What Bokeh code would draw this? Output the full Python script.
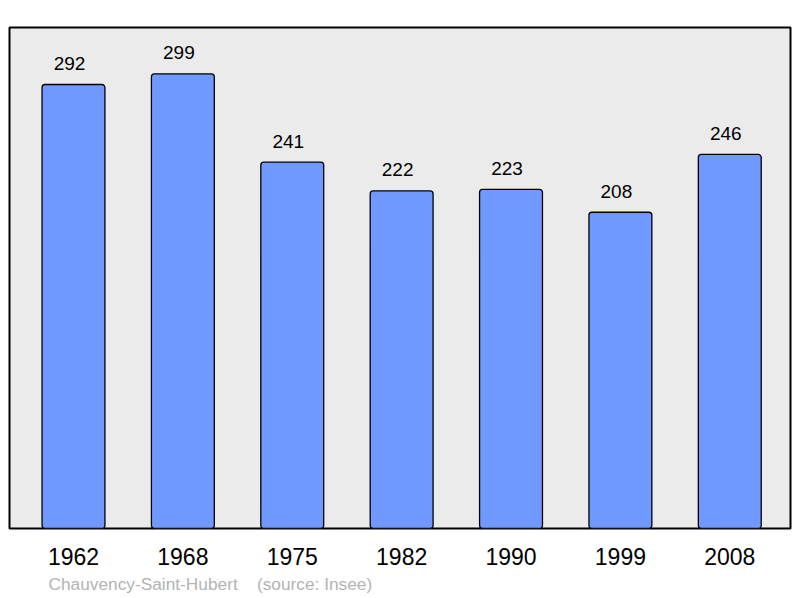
from bokeh.plotting import figure
from bokeh.models import FixedTicker, ColumnDataSource, Title, Range1d
from bokeh.core.properties import value
from bokeh.embed import file_html
from bokeh.resources import INLINE

years = ["1962", "1968", "1975", "1982", "1990", "1999", "2008"]
population = [292, 299, 241, 222, 223, 208, 246]
footer = "Chauvency-Saint-Hubert\u00a0\u00a0\u00a0\u00a0(source: Insee)"

idx = list(range(len(years)))
src = ColumnDataSource(dict(x=idx, y=population, lbl=[str(v) for v in population]))

p = figure(width=800, height=598, output_backend="svg", toolbar_location=None,
           x_range=Range1d(-0.585, 6.555), y_range=Range1d(0, 329.5),
           min_border_left=9, min_border_right=10, min_border_top=27, min_border_bottom=70)
p.background_fill_color = "#ebebeb"
p.border_fill_color = "white"
p.outline_line_color = "black"
p.outline_line_width = 2
p.grid.visible = False
p.yaxis.visible = False

p.vbar(x="x", top="y", width=0.575, source=src, fill_color="#7099ff",
       line_color="black", line_width=1.3, border_radius=3)
p.text(x="x", y="y", text="lbl", source=src, text_align="center", text_baseline="alphabetic",
       x_offset=-4, y_offset=-21, text_font=value("Liberation Sans"), text_font_size="19px",
       text_color="black")

ax = p.xaxis[0]
ax.ticker = FixedTicker(ticks=idx)
ax.major_label_overrides = {i: y for i, y in zip(idx, years)}
ax.axis_line_color = None
ax.major_tick_line_color = None
ax.minor_tick_line_color = None
ax.major_label_text_font = "Liberation Sans"
ax.major_label_text_font_size = "23px"
ax.major_label_text_color = "black"
ax.major_label_standoff = 13

t = Title(text=footer, align="left", offset=39, text_font="Liberation Sans",
          text_font_size="17.3px", text_font_style="normal", text_color="#b3b3b3", standoff=8)
p.add_layout(t, "below")

open("out.html", "w").write(file_html(p, INLINE))
